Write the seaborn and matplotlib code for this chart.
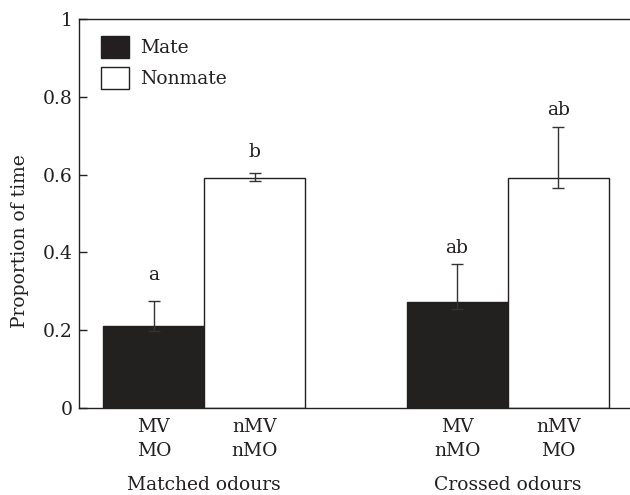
import pandas as pd
import seaborn as sns
import matplotlib.pyplot as plt
from matplotlib.patches import Patch
from matplotlib.transforms import blended_transform_factory

# Values
conditions = ["MV\nMO", "nMV\nnMO", "MV\nnMO", "nMV\nMO"]
partner = ["Mate", "Nonmate", "Mate", "Nonmate"]
proportion = [0.211, 0.591, 0.273, 0.590]
err_low = [0.198, 0.584, 0.254, 0.566]
err_high = [0.275, 0.605, 0.370, 0.721]
letters = ["a", "b", "ab", "ab"]
letter_y = [0.329, 0.645, 0.398, 0.753]
groups = ["Matched odours", "Crossed odours"]

# empty category keeps a gap between the two odour groups
order = ["MV\nMO", "nMV\nnMO", "", "MV\nnMO", "nMV\nMO"]

df = pd.DataFrame({"cond": conditions, "partner": partner, "prop": proportion})

sns.set_theme(style="ticks")
plt.rcParams["font.family"] = ["DejaVu Serif"]
fs = 13.5

ink = "#231f20"
fig = plt.figure(figsize=(6.3, 4.95), dpi=100)
ax = fig.add_axes([0.1254, 0.1758, 0.8746, 0.7859])

sns.barplot(data=df, x="cond", y="prop", hue="partner", order=order,
            palette={"Mate": ink, "Nonmate": "white"}, edgecolor=ink,
            linewidth=1.0, width=1.0, dodge=False, errorbar=None, ax=ax)

# asymmetric error bars
xpos = [order.index(c) for c in conditions]
lower = [p - lo for p, lo in zip(proportion, err_low)]
upper = [hi - p for p, hi in zip(proportion, err_high)]
ax.errorbar(xpos, proportion, yerr=[lower, upper], fmt="none",
            ecolor="#333333", elinewidth=1.0, capsize=4.5, capthick=1.0)

for x, y, lab in zip(xpos, letter_y, letters):
    ax.text(x, y, lab, ha="center", va="baseline", fontsize=fs, color=ink)

ax.set_ylim(0, 1)
ax.set_xlim(-0.74, 4.71)
ax.set_yticks([0, 0.2, 0.4, 0.6, 0.8, 1])
ax.set_yticklabels(["0", "0.2", "0.4", "0.6", "0.8", "1"])
ax.set_ylabel("Proportion of time", fontsize=fs, color=ink)
ax.yaxis.set_label_coords(-0.09, 0.43)
ax.set_xlabel("")
ax.tick_params(axis="y", direction="in", length=5.5, width=1, labelsize=fs, colors=ink, pad=4.5)
ax.tick_params(axis="x", length=0, labelsize=fs, colors=ink, pad=7)
for t in ax.get_xticklabels():
    t.set_linespacing(1.45)

for s in ["top", "left", "bottom"]:
    ax.spines[s].set_color(ink)
    ax.spines[s].set_linewidth(1.0)
ax.spines["right"].set_visible(False)

# group labels under the tick labels
trans = blended_transform_factory(ax.transData, ax.transAxes)
ax.text(0.5, -0.211, groups[0], transform=trans, ha="center", va="baseline", fontsize=fs, color=ink)
ax.text(3.5, -0.211, groups[1], transform=trans, ha="center", va="baseline", fontsize=fs, color=ink)

handles = [Patch(facecolor=ink, edgecolor=ink, label="Mate"),
           Patch(facecolor="white", edgecolor=ink, label="Nonmate")]
leg = ax.legend(handles=handles, loc="upper left", bbox_to_anchor=(22 / 551, 1 - 17 / 389),
                frameon=False, fontsize=fs, handlelength=1.5, handleheight=1.45,
                handletextpad=0.6, borderaxespad=0, borderpad=0, labelspacing=0.45)
for t in leg.get_texts():
    t.set_color(ink)

fig.savefig("out.png", dpi=100)
